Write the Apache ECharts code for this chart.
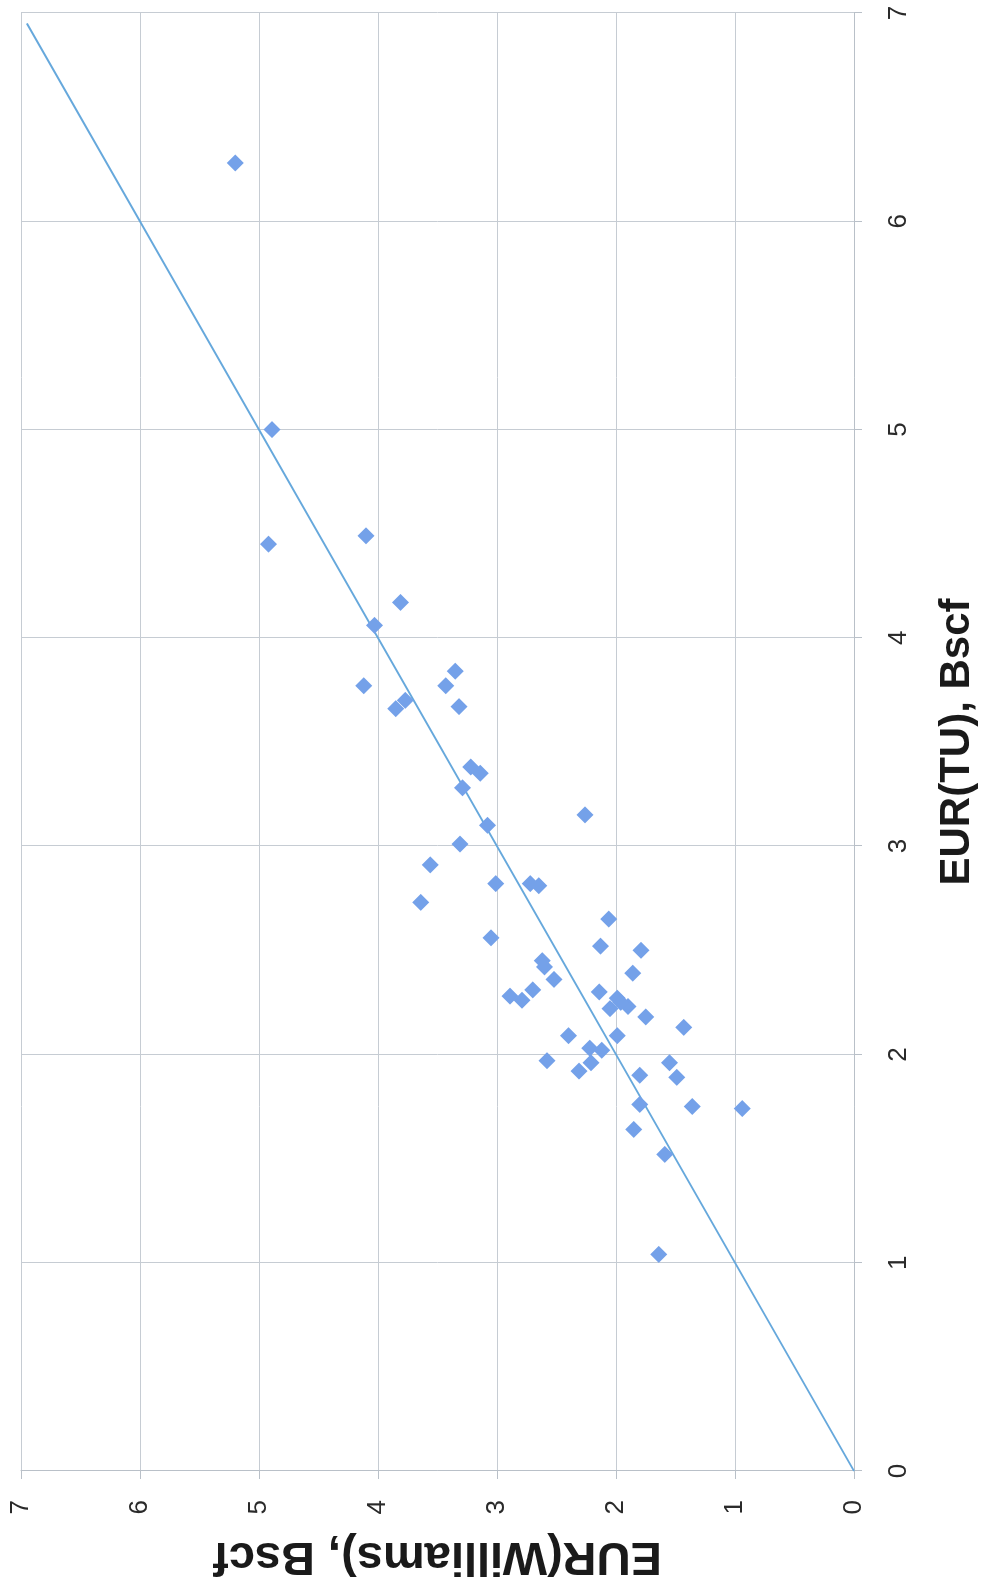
<!DOCTYPE html>
<html>
<head>
<meta charset="utf-8">
<script src="https://cdn.jsdelivr.net/npm/echarts@6/dist/echarts.min.js"></script>
<style>
  html, body { margin: 0; padding: 0; width: 983px; height: 1589px; overflow: hidden; background: #ffffff; }
  /* landscape chart turned a quarter turn counter-clockwise onto the portrait page */
  #wrap {
    position: absolute; left: 0; top: 0;
    width: 1589px; height: 983px;
    transform-origin: 0 0;
    transform: translate(0, 1589px) rotate(-90deg);
  }
</style>
</head>
<body>
<div id="wrap"></div>
<script>
// EUR estimates per well, Bscf
const eurTU = [
  6.28, 5.00, 4.45, 4.49, 4.17, 4.06, 3.77, 3.84, 3.77, 3.67,
  3.66, 3.70, 3.38, 3.35, 3.28, 3.10, 3.15, 3.01, 2.91, 2.82,
  2.82, 2.81, 2.73, 2.65, 2.56, 2.52, 2.50, 2.45, 2.42, 2.36,
  2.39, 2.28, 2.26, 2.31, 2.30, 2.27, 2.22, 2.23, 2.25, 2.18,
  2.13, 2.09, 2.09, 2.03, 2.02, 1.97, 1.96, 1.92, 1.96, 1.90,
  1.89, 1.76, 1.75, 1.74, 1.64, 1.52, 1.04
];
const eurWilliams = [
  5.20, 4.89, 4.92, 4.10, 3.81, 4.03, 4.12, 3.35, 3.43, 3.32,
  3.85, 3.77, 3.22, 3.14, 3.29, 3.08, 2.26, 3.31, 3.56, 3.01,
  2.72, 2.65, 3.64, 2.06, 3.05, 2.13, 1.79, 2.62, 2.60, 2.52,
  1.86, 2.89, 2.79, 2.70, 2.14, 1.99, 2.05, 1.90, 1.96, 1.75,
  1.43, 1.99, 2.40, 2.22, 2.12, 2.58, 2.21, 2.31, 1.55, 1.80,
  1.49, 1.80, 1.36, 0.94, 1.85, 1.59, 1.64
];
// 1:1 trend line
const trendTU = [0, 6.95];
const trendWilliams = [0, 6.95];
// axis ticks, Bscf
const axisTicks = [0, 1, 2, 3, 4, 5, 6, 7];

const points = eurTU.map((v, i) => [v, eurWilliams[i]]);
const trend = trendTU.map((v, i) => [v, trendWilliams[i]]);

const chart = echarts.init(document.getElementById('wrap'), null, { width: 1589, height: 983, renderer: 'canvas' });

const fontStack = 'Liberation Sans, Arial, sans-serif';
const gridLine = { show: true, lineStyle: { color: '#c6ccd3', width: 1 } };
const axisLine = { show: true, lineStyle: { color: '#b9c0c8', width: 1 } };
const tick = { show: true, length: 8, lineStyle: { color: '#b9c0c8' } };
const tickLabel = { color: '#2a2a2a', fontSize: 26, fontFamily: fontStack };

chart.setOption({
  backgroundColor: '#ffffff',
  animation: false,
  grid: { left: 118, right: 13, top: 21, bottom: 125, containLabel: false },
  xAxis: {
    type: 'value',
    min: axisTicks[0], max: axisTicks[axisTicks.length - 1], interval: 1,
    name: 'EUR(TU), Bscf', nameLocation: 'middle', nameGap: 82,
    nameTextStyle: { color: '#1a1a1a', fontSize: 42, fontWeight: 'bold', fontFamily: fontStack },
    axisLine: axisLine, axisTick: tick, splitLine: gridLine,
    axisLabel: Object.assign({ margin: 32 }, tickLabel)
  },
  yAxis: {
    type: 'value',
    min: axisTicks[0], max: axisTicks[axisTicks.length - 1], interval: 1,
    name: 'EUR(Williams), Bscf', nameLocation: 'middle', nameGap: 61,
    nameTextStyle: { color: '#1a1a1a', fontSize: 47, fontWeight: 'bold', fontFamily: fontStack },
    axisLine: axisLine, axisTick: tick, splitLine: gridLine,
    axisLabel: Object.assign({ margin: 29 }, tickLabel)
  },
  series: [
    {
      type: 'line',
      data: trend,
      showSymbol: false,
      lineStyle: { color: '#66a8dc', width: 2 },
      z: 2
    },
    {
      type: 'scatter',
      data: points,
      symbol: 'diamond',
      symbolSize: 17,
      itemStyle: { color: '#74a1e9', opacity: 1 },
      z: 3
    }
  ]
});
</script>
</body>
</html>
